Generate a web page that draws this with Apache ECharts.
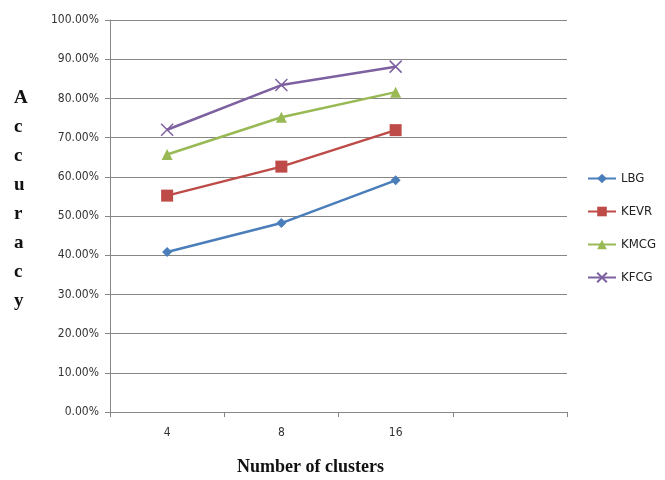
<!DOCTYPE html>
<html>
<head>
<meta charset="utf-8">
<script src="https://cdn.jsdelivr.net/npm/echarts@6/dist/echarts.min.js"></script>
<style>html,body{margin:0;padding:0;background:#fff;}#c{width:665px;height:480px;}</style>
</head>
<body>
<div id="c"></div>
<script>
var categories = ['4', '8', '16', ''];
var LBG  = [40.8, 48.2, 59.1];
var KEVR = [55.2, 62.6, 71.9];
var KMCG = [65.7, 75.2, 81.6];
var KFCG = [72.0, 83.4, 88.1];
var seriesNames = ['LBG', 'KEVR', 'KMCG', 'KFCG'];
var yTicks = { min: 0, max: 100, interval: 10 };

var labelFont = '"Liberation Sans Narrow","DejaVu Sans Condensed","Arial Narrow",sans-serif';
var colors = ['#4A7EBB', '#BE4B48', '#98B954', '#7D60A0'];
var symbols = ['diamond', 'rect', 'triangle', 'path://M0,0L10,10M10,0L0,10'];
var sizes = [10, 12, 11, 12];
var datas = [LBG, KEVR, KMCG, KFCG];

var chart = echarts.init(document.getElementById('c'), null, { renderer: 'canvas' });
chart.setOption({
  animation: false,
  backgroundColor: '#ffffff',
  grid: { left: 110, right: 98, top: 20, bottom: 68, containLabel: false },
  legend: {
    orient: 'vertical',
    left: 587,
    top: 172,
    padding: 0,
    itemGap: 20,
    itemWidth: 28,
    itemHeight: 12,
    textStyle: { fontFamily: labelFont, fontSize: 13, color: '#222' },
    data: seriesNames
  },
  xAxis: {
    type: 'category',
    data: categories,
    boundaryGap: true,
    axisLine: { lineStyle: { color: '#868686', width: 1 } },
    axisTick: { show: true, length: 5, inside: false, alignWithLabel: false, lineStyle: { color: '#868686' } },
    axisLabel: { fontFamily: labelFont, fontSize: 12, color: '#333', margin: 15 },
    splitLine: { show: false }
  },
  yAxis: {
    type: 'value',
    min: yTicks.min,
    max: yTicks.max,
    interval: yTicks.interval,
    axisLine: { show: true, lineStyle: { color: '#868686', width: 1 } },
    axisTick: { show: true, length: 5, lineStyle: { color: '#868686' } },
    axisLabel: {
      fontFamily: labelFont, fontSize: 12, color: '#333', margin: 11,
      formatter: function (v) { return v.toFixed(2) + '%'; }
    },
    splitLine: { show: true, lineStyle: { color: '#868686', width: 1 } }
  },
  graphic: [
    {
      type: 'text', left: 14, top: 84,
      style: {
        text: 'A\nc\nc\nu\nr\na\nc\ny',
        font: 'bold 19px "Liberation Serif","Times New Roman",serif',
        lineHeight: 29, fill: '#111', align: 'center'
      }
    },
    {
      type: 'text', left: 237, top: 458,
      style: {
        text: 'Number of clusters',
        font: 'bold 18px "Liberation Serif","Times New Roman",serif',
        fill: '#111'
      }
    }
  ],
  series: seriesNames.map(function (n, i) {
    return {
      name: n,
      type: 'line',
      data: datas[i],
      symbol: symbols[i],
      symbolSize: sizes[i],
      lineStyle: { color: colors[i], width: 2.5 },
      itemStyle: {
        color: colors[i],
        borderColor: colors[i],
        borderWidth: i === 3 ? 1.5 : 0
      }
    };
  })
});
</script>
</body>
</html>
